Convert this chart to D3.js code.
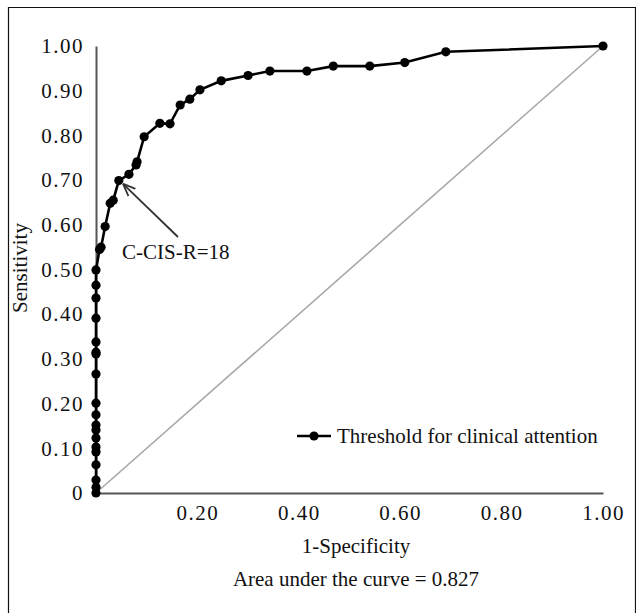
<!DOCTYPE html>
<html>
<head>
<meta charset="utf-8">
<script src="https://cdn.jsdelivr.net/npm/d3@7"></script>
<style>
  body { margin: 0; background: #fff; }
  text { font-family: "Liberation Serif", "DejaVu Serif", serif; fill: #111; }
</style>
</head>
<body>
<script>
// ROC points (1-specificity, sensitivity)
const fpr = [0, 0, 0, 0, 0, 0, 0, 0, 0, 0, 0, 0, 0, 0, 0, 0, 0, 0, 0,
    0.007, 0.010, 0.018, 0.028, 0.034, 0.045, 0.065, 0.079, 0.081, 0.095,
    0.126, 0.146, 0.166, 0.185, 0.205, 0.247, 0.300, 0.343, 0.416, 0.468,
    0.540, 0.609, 0.690, 1.000];
const sens = [0, 0.013, 0.029, 0.063, 0.092, 0.103, 0.123, 0.141, 0.152, 0.175,
    0.201, 0.266, 0.311, 0.315, 0.338, 0.391, 0.436, 0.465, 0.499,
    0.545, 0.550, 0.596, 0.648, 0.655, 0.699, 0.713, 0.734, 0.741, 0.797,
    0.827, 0.826, 0.868, 0.881, 0.902, 0.922, 0.934, 0.944, 0.944, 0.955,
    0.955, 0.963, 0.987, 1.000];
const xTicks = [0.2, 0.4, 0.6, 0.8, 1.0];
const yTicks = [0, 0.1, 0.2, 0.3, 0.4, 0.5, 0.6, 0.7, 0.8, 0.9, 1.0];
const seriesName = "Threshold for clinical attention";
const cutoffLabel = "C-CIS-R=18";
const cutoffIndex = 24;
const aucText = "Area under the curve = 0.827";

const W = 636, H = 613;
const points = fpr.map((d, i) => ({x: d, y: sens[i]}));

const svg = d3.select("body").append("svg")
    .attr("width", W)
    .attr("height", H);

// outer frame
svg.append("path")
    .attr("d", "M8.5,613 V7.5 H635.5 V613")
    .attr("fill", "none")
    .attr("stroke", "#111")
    .attr("stroke-width", 1.2);

const x = d3.scaleLinear().domain([0, 1]).range([96, 603]);
const y = d3.scaleLinear().domain([0, 1]).range([493, 46]);

// axes (no tick marks, just labels)
const gx = svg.append("g")
    .attr("transform", `translate(0,${y(0)})`)
    .call(d3.axisBottom(x).tickValues(xTicks).tickSize(0).tickPadding(12)
        .tickFormat(d3.format(".2f")));
gx.select(".domain").attr("stroke", "#555").attr("stroke-width", 2);
gx.selectAll("text").style("font-size", "21px").style("letter-spacing", "1.5px").attr("fill", "#111");

const gy = svg.append("g")
    .attr("transform", `translate(${x(0)},0)`)
    .call(d3.axisLeft(y).tickValues(yTicks).tickSize(0).tickPadding(12)
        .tickFormat(d => d === 0 ? "0" : d3.format(".2f")(d)));
gy.select(".domain").attr("stroke", "#555").attr("stroke-width", 2);
gy.selectAll("text").style("font-size", "21px").style("letter-spacing", "1.5px").attr("fill", "#111");

// reference diagonal
svg.append("line")
    .attr("x1", x(0)).attr("y1", y(0))
    .attr("x2", x(1)).attr("y2", y(1))
    .attr("stroke", "#a8a8a8")
    .attr("stroke-width", 1.6);

// ROC curve
const line = d3.line().x(d => x(d.x)).y(d => y(d.y));
svg.append("path")
    .datum(points)
    .attr("d", line)
    .attr("fill", "none")
    .attr("stroke", "#000")
    .attr("stroke-width", 2.6);

svg.selectAll(".pt")
    .data(points)
    .enter()
    .append("circle")
    .attr("class", "pt")
    .attr("cx", d => x(d.x))
    .attr("cy", d => y(d.y))
    .attr("r", 4.6)
    .attr("fill", "#000");

// cutoff annotation
svg.append("defs").append("marker")
    .attr("id", "arr")
    .attr("viewBox", "0 0 10 10")
    .attr("refX", 9).attr("refY", 5)
    .attr("markerWidth", 7).attr("markerHeight", 7)
    .attr("orient", "auto")
    .append("path")
    .attr("d", "M0,1 L10,5 L0,9")
    .attr("fill", "none")
    .attr("stroke", "#333")
    .attr("stroke-width", 1.4);

const cp = points[cutoffIndex];
svg.append("line")
    .attr("x1", 178).attr("y1", 237)
    .attr("x2", x(cp.x) + 5).attr("y2", y(cp.y) + 4)
    .attr("stroke", "#333")
    .attr("stroke-width", 1.8)
    .attr("marker-end", "url(#arr)");

svg.append("text")
    .attr("x", 122)
    .attr("y", 259)
    .style("font-size", "21px")
    .text(cutoffLabel);

// legend
const lg = svg.append("g").attr("transform", "translate(297,436)");
lg.append("line")
    .attr("x1", 0).attr("x2", 34)
    .attr("stroke", "#000").attr("stroke-width", 2.6);
lg.append("circle").attr("cx", 17).attr("r", 4.6).attr("fill", "#000");
lg.append("text")
    .attr("x", 40)
    .attr("dy", "0.33em")
    .style("font-size", "21px")
    .text(seriesName);

// axis titles
svg.append("text")
    .attr("x", 356)
    .attr("y", 553)
    .attr("text-anchor", "middle")
    .style("font-size", "21px")
    .text("1-Specificity");

svg.append("text")
    .attr("transform", "translate(27,268) rotate(-90)")
    .attr("text-anchor", "middle")
    .style("font-size", "21px")
    .text("Sensitivity");

svg.append("text")
    .attr("x", 356)
    .attr("y", 586)
    .attr("text-anchor", "middle")
    .style("font-size", "21px")
    .text(aucText);
</script>
</body>
</html>
